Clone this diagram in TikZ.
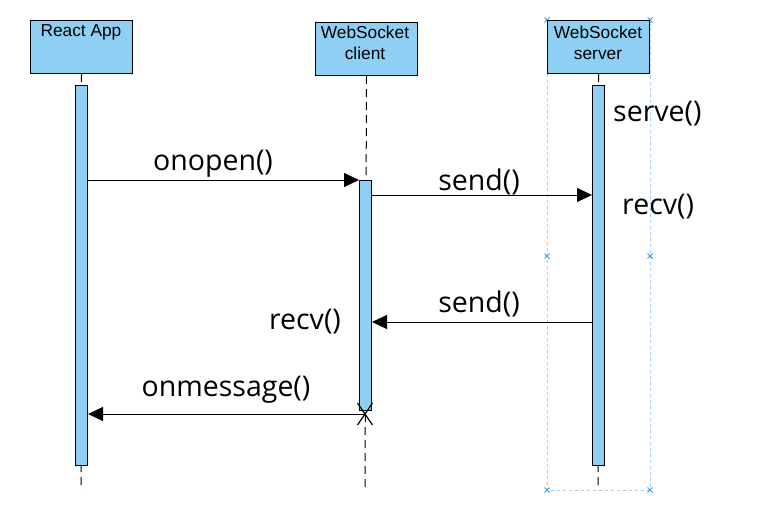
\documentclass[tikz,border=0pt]{standalone}
\usepackage{fontspec}
\setmainfont{Liberation Sans}
\newfontfamily\labelfont{Open Sans}
\usetikzlibrary{arrows.meta}
\definecolor{boxblue}{HTML}{8ECFF3}
\definecolor{selblue}{HTML}{A9CDF0}
\definecolor{handle}{HTML}{3C9CE0}
\tikzset{
  x=1pt,y=-1pt,
  actor/.style={draw=black,fill=boxblue,line width=1pt,minimum width=102pt,minimum height=53pt,inner sep=0pt},
  actbar/.style={draw=black,fill=boxblue,line width=1pt},
  atext/.style={align=center,inner sep=0pt,font=\fontsize{17.3}{21}\selectfont},
  life/.style={draw=black,line width=1pt,dash pattern=on 8pt off 5pt},
  msg/.style={draw=black,line width=1pt,-{Triangle[length=15pt,width=14pt]}},
  lbl/.style={font=\labelfont\fontsize{28.5}{32}\selectfont,inner sep=0pt},
  sel/.style={draw=selblue,line width=0.8pt,dash pattern=on 3pt off 3pt},
  hmark/.style={draw=handle,line width=0.8pt}
}
\begin{document}
\begin{tikzpicture}
\useasboundingbox (0,0) rectangle (765,517);
% selection frame
\draw[sel] (547,20) rectangle (650,490);
\foreach \p in {(547,20),(650,20),(547,256),(650,256),(547,490),(650,490)}{
  \draw[hmark] \p ++(-2.5,-2.5) -- ++(5,5) \p ++(-2.5,2.5) -- ++(5,-5);
}
% actors
\node[actor,anchor=north west] (ra) at (30,20) {};
\node[atext] (rat) at (81,32) {React App};
\node[actor,anchor=north west] (wc) at (315,22) {};
\node[atext] (wct) at (365,42.5) {WebSocket\\client};
\node[actor,anchor=north west] (ws) at (547,20) {};
\node[atext] (wst) at (598,42.5) {WebSocket\\server};
% lifelines
\coordinate (raend) at (81,490);
\coordinate (wcend) at (365,490);
\coordinate (wsend) at (598,490);
\draw[life] (ra.south) -- (raend);
\draw[life] (wc.south) -- (wcend);
\draw[life] (ws.south) -- (wsend);
% activation bars
\node[actbar,anchor=north west,minimum width=12pt,minimum height=380pt,inner sep=0pt] (rab) at (75,85) {};
\node[actbar,anchor=north west,minimum width=12pt,minimum height=230pt,inner sep=0pt] (wcb) at (359,180) {};
\node[actbar,anchor=north west,minimum width=12pt,minimum height=380pt,inner sep=0pt] (wsb) at (592,85) {};
% messages
\draw[msg] (rab.east |- 0,180) -- (wcb.west |- 0,180);
\node[lbl] (l1) at (213,164) {onopen()};
\draw[msg] (wcb.east |- 0,195) -- (wsb.west |- 0,195);
\node[lbl] (l2) at (479,182) {send()};
\draw[msg] (wsb.west |- 0,322) -- (wcb.east |- 0,322);
\node[lbl] (l3) at (479,304) {send()};
\node[lbl] (l4) at (305,322) {recv()};
\coordinate (xpt) at (365,414);
\draw[msg] (xpt) -- (rab.east |- xpt);
\node[lbl] (l5) at (226,390) {onmessage()};
\draw[black,line width=1.2pt] (xpt) ++(-7.5,-11) -- ++(15,22) (xpt) ++(7.5,-11) -- ++(-15,22);
\node[lbl,anchor=west] (l6) at (613,114) {serve()};
\node[lbl,anchor=west] (l7) at (622,207) {recv()};
\end{tikzpicture}
\end{document}
